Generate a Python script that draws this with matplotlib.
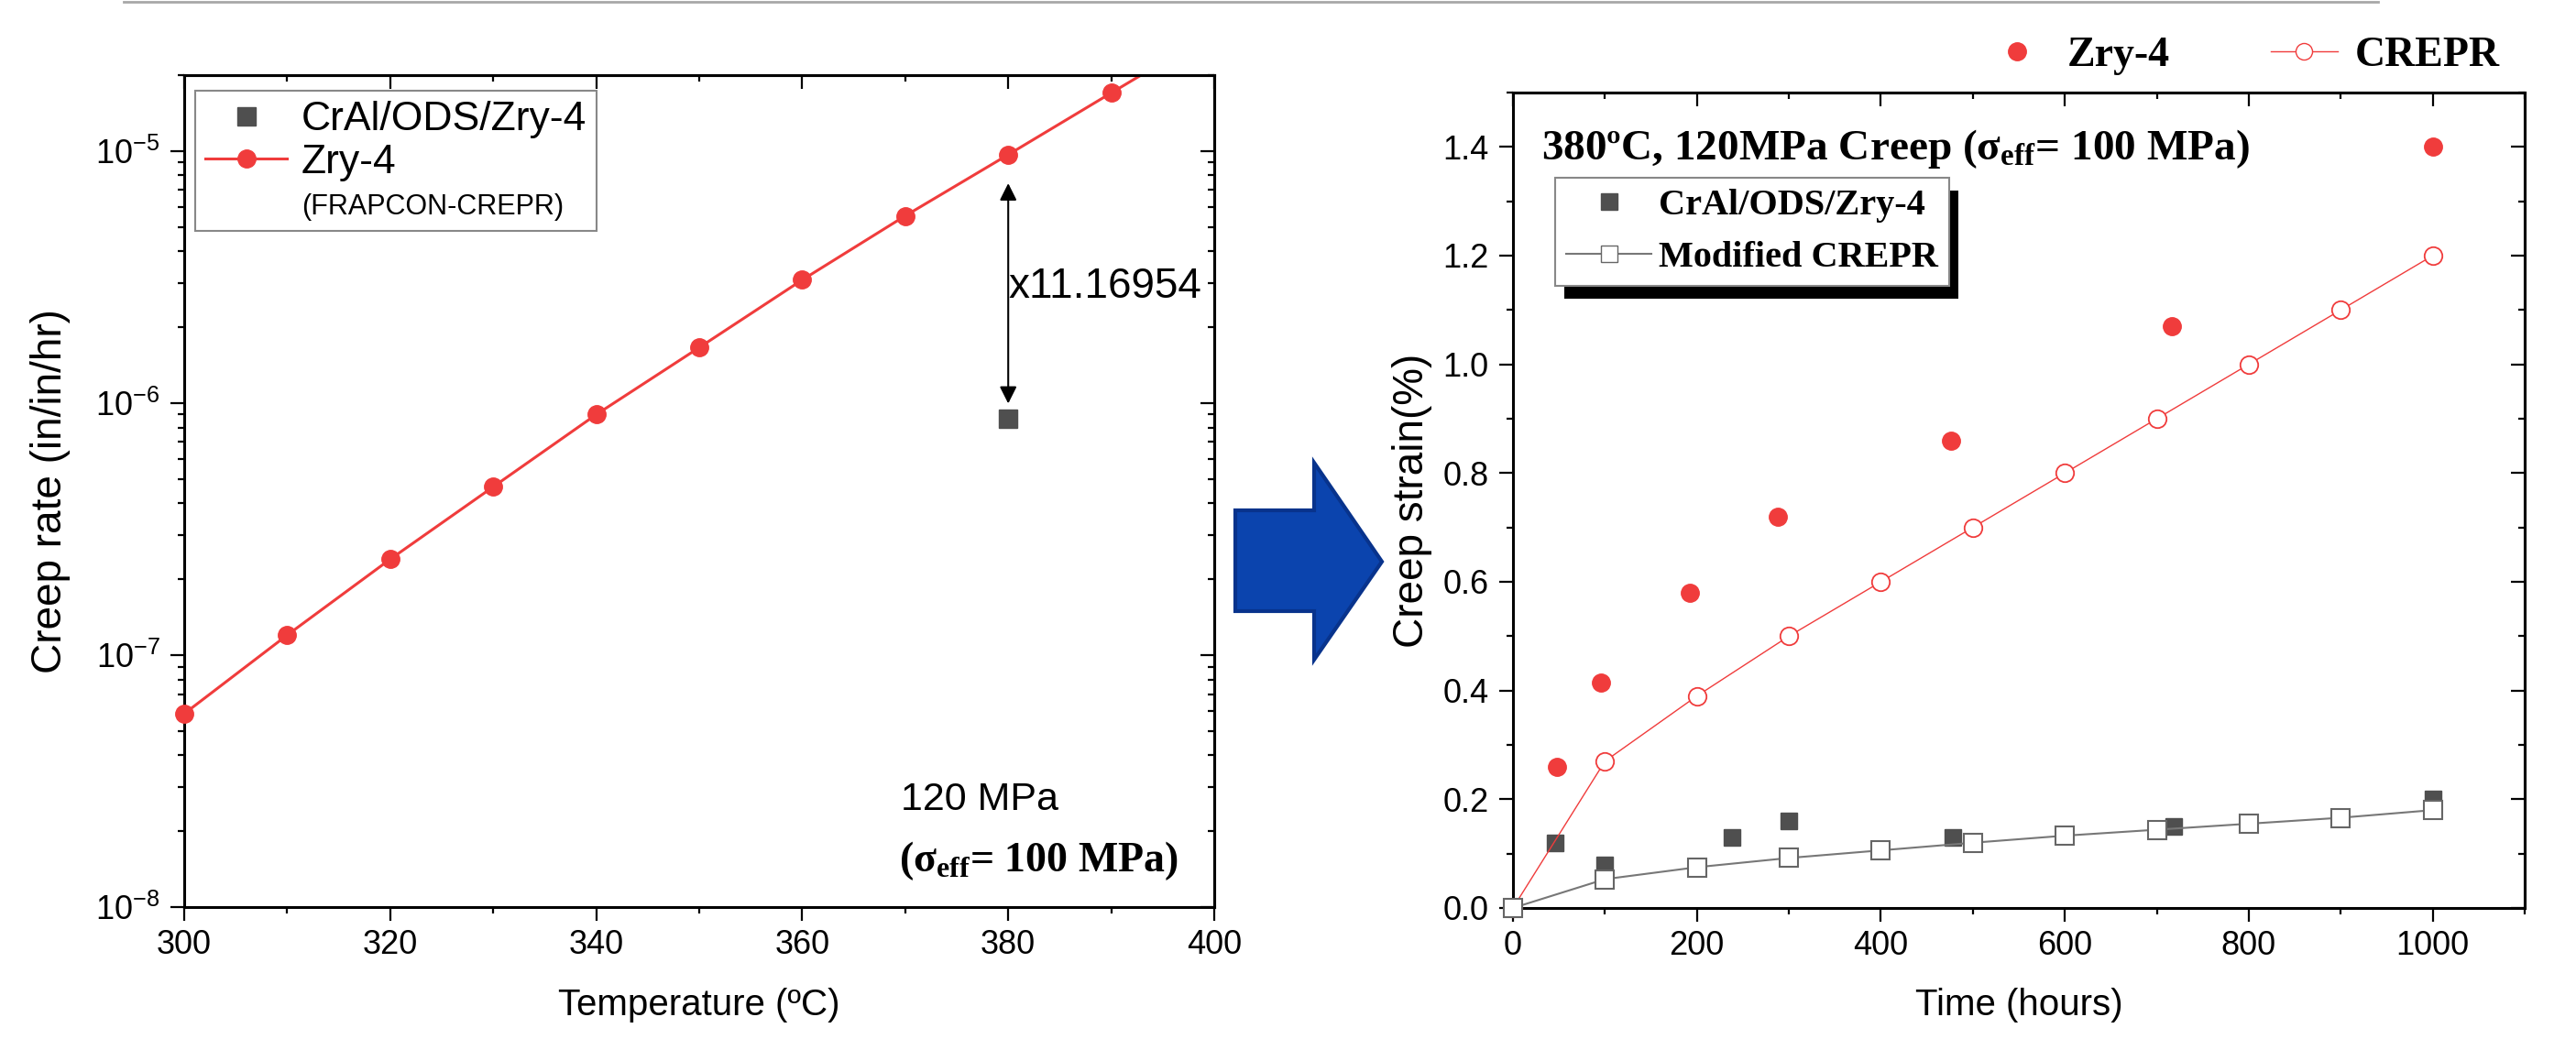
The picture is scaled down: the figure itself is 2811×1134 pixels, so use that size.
import numpy as np
import matplotlib
matplotlib.use('Agg')
import matplotlib.pyplot as plt
from matplotlib.lines import Line2D
from matplotlib.patches import Polygon, Rectangle
from matplotlib.transforms import IdentityTransform
from matplotlib.ticker import MultipleLocator, LogLocator, NullFormatter

plt.rcParams['font.family'] = ['Liberation Sans', 'DejaVu Sans']
plt.rcParams['mathtext.fontset'] = 'custom'
plt.rcParams['mathtext.rm'] = 'Liberation Serif:bold'
plt.rcParams['mathtext.it'] = 'Liberation Serif:italic:bold'
plt.rcParams['mathtext.bf'] = 'Liberation Serif:bold'

# left panel: creep rate vs temperature (FRAPCON-CREPR) at 120 MPa
temps = [300, 310, 320, 330, 340, 350, 360, 370, 380, 390, 400]
zry4_rate = [5.85e-8, 1.2e-7, 2.4e-7, 4.65e-7, 9.0e-7, 1.66e-6, 3.08e-6,
             5.53e-6, 9.67e-6, 1.70e-5, 2.98e-5]
cral_temp = [380]
cral_rate = [8.65e-7]
ratio_label = 'x11.16954'

# right panel: creep strain vs time at 380 C
zry4_t = [48, 96, 192, 288, 476, 716, 1000]
zry4_strain = [0.26, 0.415, 0.58, 0.72, 0.86, 1.07, 1.40]
model_t = [0, 100, 200, 300, 400, 500, 600, 700, 800, 900, 1000]
crepr_strain = [0, 0.27, 0.39, 0.50, 0.60, 0.70, 0.80, 0.90, 1.00, 1.10, 1.20]
mod_crepr_strain = [0, 0.053, 0.075, 0.092, 0.106, 0.12, 0.133, 0.144,
                    0.155, 0.166, 0.18]
cral_t = [46, 100, 238, 300, 478, 718, 1000]
cral_strain = [0.12, 0.08, 0.13, 0.16, 0.13, 0.15, 0.20]

W, H = 2811, 1134
RED = '#f03c3c'
GREY = '#4f4f4f'
SERIF = 'Liberation Serif'
TICK_FS = 26
XLABEL_FS = 29
YLABEL_FS = 33

fig = plt.figure(figsize=(W / 100, H / 100), dpi=100)


def px_axes(l, r, t, b):
    return fig.add_axes([l / W, 1 - b / H, (r - l) / W, (b - t) / H])


def style_axes(ax, xmaj, xmin, ymaj=None, ymin=None, log=False):
    for s in ax.spines.values():
        s.set_linewidth(2.2)
    ax.tick_params(which='both', direction='out', width=1.6,
                   labelsize=TICK_FS, top=False, right=False)
    ax.tick_params(which='major', length=11)
    ax.tick_params(which='minor', length=5)
    ax.tick_params(axis='x', pad=6)
    ax.tick_params(axis='y', pad=8)
    ax.xaxis.set_major_locator(MultipleLocator(xmaj))
    ax.xaxis.set_minor_locator(MultipleLocator(xmin))
    top = ax.secondary_xaxis('top')
    right = ax.secondary_yaxis('right')
    top.xaxis.set_major_locator(MultipleLocator(xmaj))
    top.xaxis.set_minor_locator(MultipleLocator(xmin))
    if log:
        right.yaxis.set_major_locator(LogLocator(base=10))
        right.yaxis.set_minor_locator(LogLocator(base=10, subs=np.arange(2, 10)))
        right.yaxis.set_minor_formatter(NullFormatter())
    else:
        ax.yaxis.set_major_locator(MultipleLocator(ymaj))
        ax.yaxis.set_minor_locator(MultipleLocator(ymin))
        right.yaxis.set_major_locator(MultipleLocator(ymaj))
        right.yaxis.set_minor_locator(MultipleLocator(ymin))
    for sec in (top, right):
        sec.tick_params(which='both', direction='in', width=1.6,
                        labeltop=False, labelright=False)
        sec.tick_params(which='major', length=11)
        sec.tick_params(which='minor', length=5)
        for s in sec.spines.values():
            s.set_linewidth(2.2)


# ---------------- left panel ----------------
ax1 = px_axes(201, 1325, 82, 990)
ax1.set_yscale('log')
ax1.set_xlim(300, 400)
ax1.set_ylim(1e-8, 2e-5)
ax1.plot(temps, zry4_rate, '-', color=RED, lw=2.2)
# markers inside the frame are drawn unclipped (Origin style)
lo, hi = ax1.get_ylim()
shown = [(t, r) for t, r in zip(temps, zry4_rate) if lo <= r <= hi]
ax1.plot([t for t, _ in shown], [r for _, r in shown], 'o', color=RED, ms=14,
         clip_on=False, zorder=3)
ax1.plot(cral_temp, cral_rate, 's', color=GREY, ms=14, ls='none')
ax1.yaxis.set_major_locator(LogLocator(base=10))
ax1.yaxis.set_minor_locator(LogLocator(base=10, subs=np.arange(2, 10)))
ax1.yaxis.set_minor_formatter(NullFormatter())
style_axes(ax1, 20, 10, log=True)
ax1.set_xlabel('Temperature (ºC)', fontsize=XLABEL_FS)
ax1.set_ylabel('Creep rate (in/in/hr)', fontsize=YLABEL_FS)
ax1.xaxis.set_label_coords(0.5, -0.097)
ax1.yaxis.set_label_coords(-0.110, 0.5)

# ratio arrow between the two materials at 380 C
i380 = temps.index(380)
ax1.annotate('', xy=(380, cral_rate[0] * 1.15), xytext=(380, zry4_rate[i380] * 0.77),
             arrowprops=dict(arrowstyle='<|-|>', color='black', lw=1.5,
                             mutation_scale=28, shrinkA=0, shrinkB=0))
ax1.text(380, 2.9e-6, ratio_label, fontsize=33, ha='left', va='center')
ax1.text(0.696, 0.129, '120 MPa', transform=ax1.transAxes, fontsize=31,
         ha='left', va='center')
ax1.text(0.694, 0.055, '(σ$_{\\mathrm{eff}}$= 100 MPa)', transform=ax1.transAxes,
         fontsize=33, fontfamily=SERIF, fontweight='bold', ha='left', va='center')

h1 = [Line2D([], [], marker='s', color=GREY, ls='none', ms=14),
      Line2D([], [], marker='o', color=RED, lw=2.2, ms=14),
      Line2D([], [], ls='none')]
leg1 = ax1.legend(h1, ['CrAl/ODS/Zry-4', 'Zry-4', '(FRAPCON-CREPR)'],
                  loc='upper left', bbox_to_anchor=(0.011, 0.981), fontsize=32,
                  fancybox=False, edgecolor='#888888', framealpha=1,
                  handlelength=2.0, handletextpad=0.35, borderpad=0.25,
                  labelspacing=0.12, borderaxespad=0)
leg1.get_frame().set_linewidth(1.5)
leg1.get_texts()[2].set_fontsize(22)

# ---------------- right panel ----------------
ax2 = px_axes(1651, 2755, 101, 991)
ax2.plot(model_t, crepr_strain, '-o', color=RED, lw=1, ms=14, mfc='white',
         mew=1.3, clip_on=False, zorder=3)
ax2.plot(zry4_t, zry4_strain, 'o', color=RED, ms=14, ls='none',
         clip_on=False, zorder=4)
ax2.plot(model_t, mod_crepr_strain, '-s', color='#777777', lw=1.5, ms=14,
         mfc='white', mec='#666666', mew=1.5, clip_on=False, zorder=3)
ax2.plot(cral_t, cral_strain, 's', color=GREY, ms=13, ls='none',
         clip_on=False, zorder=2)
ax2.set_xlim(0, 1100)
ax2.set_ylim(0, 1.5)
style_axes(ax2, 200, 100, 0.2, 0.1)
ax2.set_xticks([0, 200, 400, 600, 800, 1000])
ax2.yaxis.set_major_formatter(plt.FuncFormatter(lambda v, p: f'{v:.1f}'))
ax2.set_xlabel('Time (hours)', fontsize=XLABEL_FS)
ax2.set_ylabel('Creep strain(%)', fontsize=YLABEL_FS)
ax2.xaxis.set_label_coords(0.5, -0.098)
ax2.yaxis.set_label_coords(-0.080, 0.5)
ax2.text(0.028, 0.931, '380ºC, 120MPa Creep (σ$_{\\mathrm{eff}}$= 100 MPa)',
         transform=ax2.transAxes, fontsize=34, fontfamily=SERIF,
         fontweight='bold', ha='left', va='center')

h2 = [Line2D([], [], marker='s', color=GREY, ls='none', ms=13),
      Line2D([], [], marker='s', color='#777777', lw=1.5, ms=13, mfc='white',
             mec='#666666')]
leg2 = ax2.legend(h2, ['CrAl/ODS/Zry-4', 'Modified CREPR'], loc='upper left',
                  bbox_to_anchor=(0.042, 0.896), prop=dict(family=SERIF,
                                                           weight='bold', size=29),
                  fancybox=False, edgecolor='#888888', framealpha=1,
                  handlelength=2.3, handletextpad=0.2, borderpad=0.3,
                  labelspacing=0.5, borderaxespad=0)
leg2.get_frame().set_linewidth(1.5)

h3 = [Line2D([], [], marker='o', color=RED, ls='none', ms=14),
      Line2D([], [], marker='o', color=RED, lw=1, ms=13, mfc='white')]
fig.legend(h3, ['Zry-4', 'CREPR'], loc='center', ncol=2,
           bbox_to_anchor=(0.870, 0.946), frameon=False,
           prop=dict(family=SERIF, weight='bold', size=33),
           handlelength=1.6, handletextpad=0.4, columnspacing=2.4)

# black drop shadow behind the inner legend
fig.canvas.draw()
bb = leg2.get_frame().get_window_extent()
ax2.add_patch(Rectangle((bb.x0 + 10, bb.y0 - 14), bb.width, bb.height,
                        transform=IdentityTransform(), facecolor='black',
                        edgecolor='none', zorder=4.9, clip_on=False))

# big blue block arrow between panels
arrow_px = [(1348, 557), (1434, 557), (1434, 505), (1508, 613),
            (1434, 720), (1434, 667), (1348, 667)]
fig.patches.append(Polygon([(x / W, 1 - y / H) for x, y in arrow_px],
                           closed=True, transform=fig.transFigure,
                           facecolor='#0b44ae', edgecolor='#08338c', lw=3,
                           zorder=10))

# thin grey rule across the top
fig.add_artist(Line2D([135 / W, 2595 / W], [1 - 1.5 / H, 1 - 1.5 / H],
                      transform=fig.transFigure, color='#a8a8a8', lw=2))

fig.savefig('out.png', dpi=100)
